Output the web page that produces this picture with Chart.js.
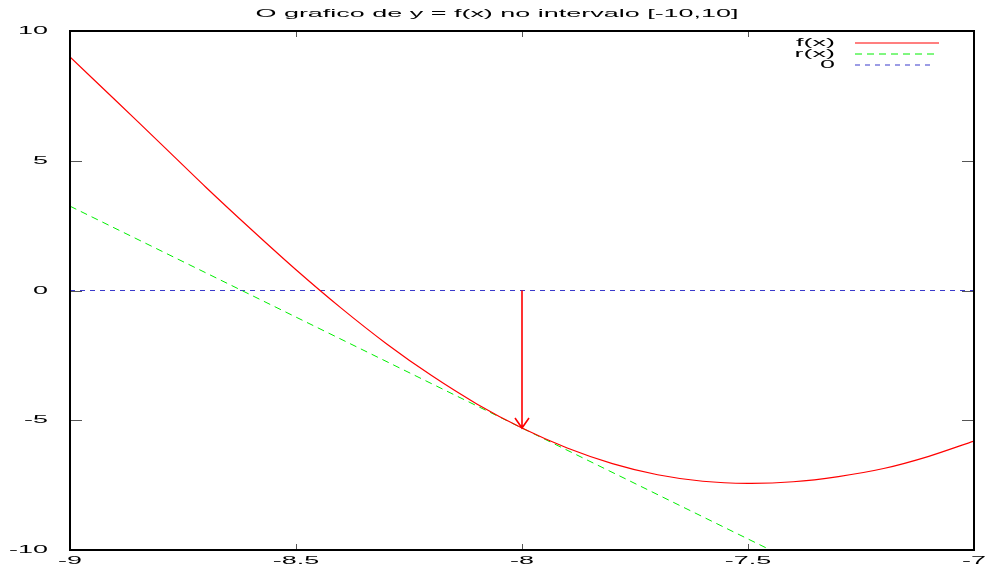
<!DOCTYPE html>
<html><head><meta charset="utf-8">
<script src="https://cdn.jsdelivr.net/npm/chart.js@4"></script>
<style>html,body{margin:0;padding:0;background:#fff}#wrap{width:986px;height:569px}</style>
</head><body><div id="wrap"><canvas id="c" width="986" height="569"></canvas></div>
<script>
const titleText = 'O grafico de y = f(x) no intervalo [-10,10]';
const xValues = [-9.0,-8.9,-8.8,-8.7,-8.6,-8.5,-8.4,-8.3,-8.2,-8.1,-8.0,-7.9,-7.8,-7.7,-7.6,-7.5,-7.4,-7.3,-7.2,-7.1,-7.0];
const fValues = [9.0,7.34,5.67,3.99,2.37,0.80,-0.68,-2.05,-3.28,-4.37,-5.3,-6.07,-6.67,-7.10,-7.35,-7.43,-7.37,-7.17,-6.86,-6.39,-5.80];
const rX = [-9.0,-8.0,-7.0];
const rValues = [3.25,-5.3,-13.85];
const zeroX = [-9.0,-7.0];
const zeroValues = [0,0];
const arrowX = -8.0, arrowFromY = 0, arrowToY = -5.3;
const xTicks = [-9,-8.5,-8,-7.5,-7];
const xTickLabels = ['-9','-8.5','-8','-7.5','-7'];
const yTicks = [-10,-5,0,5,10];
const yTickLabels = ['-10','-5','0','5','10'];
const seriesLabels = ['f(x)','r(x)','0'];

const FONT = '11px "Liberation Sans", Arial, sans-serif';
const SX = 2.45;
function sText(ctx, t, x, y, align){
  ctx.save(); ctx.translate(x,y); ctx.scale(SX,1);
  ctx.font = FONT; ctx.fillStyle='#000'; ctx.textAlign=align; ctx.textBaseline='middle';
  ctx.fillText(t,0,0); ctx.restore();
}
const pts = (xs, ys) => xs.map((x,i)=>({x:x,y:ys[i]}));

const deco = {
  id:'deco',
  afterDatasetsDraw(chart){
    const ctx = chart.ctx, xs = chart.scales.x, ys = chart.scales.y, a = chart.chartArea;
    const ax = xs.getPixelForValue(arrowX), y0 = ys.getPixelForValue(arrowFromY), y1 = ys.getPixelForValue(arrowToY);
    ctx.save();
    ctx.strokeStyle='#ff0000'; ctx.lineWidth=1.6;
    ctx.beginPath(); ctx.moveTo(ax,y0); ctx.lineTo(ax,y1);
    ctx.moveTo(ax-7,y1-10); ctx.lineTo(ax,y1); ctx.lineTo(ax+7,y1-10); ctx.stroke();
    ctx.restore();
    ctx.save(); ctx.strokeStyle='#555'; ctx.lineWidth=1;
    ctx.beginPath();
    xTicks.forEach(v=>{const p=Math.round(xs.getPixelForValue(v))+0.5; ctx.moveTo(p,a.bottom); ctx.lineTo(p,a.bottom-6); ctx.moveTo(p,a.top); ctx.lineTo(p,a.top+6);});
    yTicks.forEach(v=>{const p=Math.round(ys.getPixelForValue(v))+0.5; ctx.moveTo(a.left,p); ctx.lineTo(a.left+12,p); ctx.moveTo(a.right,p); ctx.lineTo(a.right-12,p);});
    ctx.stroke(); ctx.restore();
    ctx.save(); ctx.strokeStyle='#000'; ctx.lineWidth=2;
    ctx.strokeRect(a.left,a.top,a.right-a.left,a.bottom-a.top); ctx.restore();
    xTicks.forEach((v,i)=>sText(ctx,xTickLabels[i],xs.getPixelForValue(v),a.bottom+11,'center'));
    yTicks.forEach((v,i)=>sText(ctx,yTickLabels[i],a.left-22,ys.getPixelForValue(v),'right'));
    sText(ctx,titleText,497,14,'center');
    chart.data.datasets.forEach((ds,i)=>{
      const yy = 43 + i*11;
      sText(ctx,seriesLabels[i],835,yy,'right');
      ctx.save(); ctx.strokeStyle=ds.borderColor; ctx.lineWidth=ds.borderWidth;
      ctx.setLineDash(ds.borderDash||[]);
      ctx.beginPath(); ctx.moveTo(855,yy); ctx.lineTo(i===2?933:939,yy); ctx.stroke(); ctx.restore();
    });
  }
};

new Chart(document.getElementById('c'),{
  type:'line',
  data:{datasets:[
    {label:seriesLabels[0],data:pts(xValues,fValues),borderColor:'#ff0000',borderWidth:1.2,pointRadius:0,tension:0.3,fill:false},
    {label:seriesLabels[1],data:pts(rX,rValues),borderColor:'#00ee00',borderWidth:1,borderDash:[7,5],pointRadius:0,fill:false},
    {label:seriesLabels[2],data:pts(zeroX,zeroValues),borderColor:'#3a3acc',borderWidth:1,borderDash:[5,5],pointRadius:0,fill:false}
  ]},
  options:{
    responsive:false,animation:false,devicePixelRatio:1,
    layout:{padding:{left:0,right:12,top:31,bottom:0}},
    plugins:{legend:{display:false},title:{display:false},tooltip:{enabled:false}},
    scales:{
      x:{type:'linear',min:-9,max:-7,ticks:{display:false},grid:{display:false},border:{display:false},afterFit(s){s.height=19;}},
      y:{type:'linear',min:-10,max:10,ticks:{display:false},grid:{display:false},border:{display:false},afterFit(s){s.width=70;}}
    }
  },
  plugins:[deco]
});
</script></body></html>
